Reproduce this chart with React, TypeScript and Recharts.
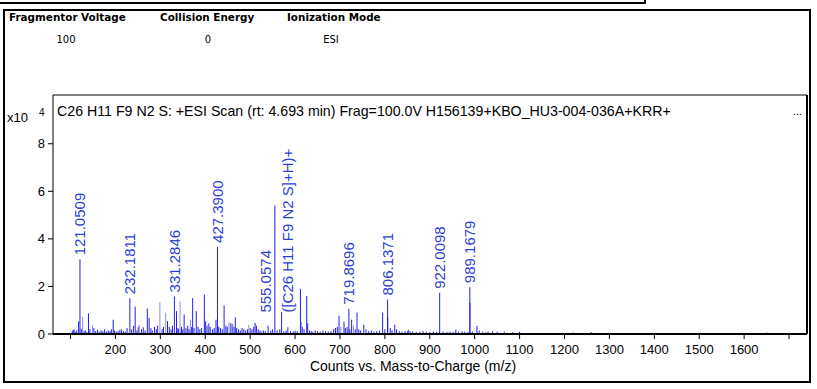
import { ScatterChart, Scatter, XAxis, YAxis, ErrorBar, ReferenceLine, Label } from "recharts";

// labelled centroids (m/z, counts x10^4)
const annotatedMz = [121.0509, 232.1811, 331.2846, 427.39, 555.0574, 719.8696, 806.1371, 922.0098, 989.1679];
const annotatedCounts = [3.14, 1.5, 1.58, 3.66, 5.4, 1.06, 1.45, 1.73, 1.97];
const basePeakFormula = "([C26 H11 F9 N2 S]+H)+";
const basePeakMz = 555.0574;

// unlabelled peaks, darker sticks
const minorPeaks: [number, number][] = [
  [106, 0.18], [118, 0.53], [140, 0.87], [195, 0.6], [244, 1.15], [271, 1.07], [275, 0.68],
  [316, 0.54], [336, 0.96], [353, 0.82], [372, 1.51], [380, 0.96], [398, 1.66], [401, 0.54],
  [424, 0.6], [442, 1.2], [457, 0.45], [467, 0.7], [511, 0.46], [540, 0.35], [570, 0.92],
  [584, 0.28], [612, 1.9], [626, 1.6], [628, 0.45], [698, 0.77], [709, 0.52], [726, 0.6],
  [738, 0.9], [753, 0.39], [795, 0.9], [806.4, 0.7], [822, 0.39], [852, 0.18], [958, 0.18],
  [989.4, 1.31], [1005, 0.35],
];

// lighter sticks
const faintPeaks: [number, number][] = [
  [127, 0.73], [149, 0.35], [253, 0.39], [299, 1.34], [312, 0.9], [344, 1.38], [367, 0.6],
  [453, 0.5], [460, 0.45], [497, 0.38], [614, 0.5], [702, 0.3], [730, 0.35],
];

// baseline noise
const noisePeaks: [number, number][] = [
  [104, 0.12], [108, 0.18], [111, 0.08], [114, 0.15], [124, 0.22], [130, 0.12], [133, 0.15],
  [136, 0.08], [143, 0.2], [152, 0.25], [156, 0.12], [160, 0.18], [164, 0.1], [168, 0.15],
  [172, 0.12], [176, 0.2], [180, 0.1], [184, 0.15], [188, 0.12], [191, 0.2], [198, 0.15],
  [202, 0.1], [206, 0.12], [210, 0.18], [214, 0.2], [218, 0.12], [222, 0.1], [226, 0.25],
  [236, 0.2], [240, 0.35], [248, 0.15], [251, 0.3], [258, 0.2], [262, 0.28], [266, 0.15],
  [279, 0.25], [282, 0.15], [287, 0.3], [291, 0.2], [294, 0.35], [304, 0.2], [307, 0.3],
  [320, 0.3], [324, 0.2], [327, 0.35], [339, 0.25], [341, 0.2], [347, 0.3], [350, 0.2],
  [357, 0.25], [361, 0.35], [364, 0.2], [369, 0.3], [375, 0.25], [384, 0.3], [388, 0.2],
  [392, 0.25], [404, 0.35], [408, 0.45], [411, 0.3], [416, 0.2], [420, 0.25], [430, 0.3],
  [434, 0.25], [438, 0.2], [446, 0.35], [449, 0.3], [461, 0.4], [464, 0.3], [470, 0.25],
  [474, 0.2], [478, 0.15], [482, 0.25], [486, 0.2], [490, 0.15], [494, 0.2], [500, 0.25],
  [504, 0.2], [508, 0.3], [514, 0.35], [518, 0.2], [522, 0.15], [526, 0.1], [530, 0.15],
  [534, 0.12], [546, 0.15], [550, 0.2], [560, 0.15], [566, 0.2], [575, 0.12], [580, 0.15],
  [590, 0.12], [596, 0.1], [600, 0.15], [605, 0.12], [616, 0.3], [620, 0.2], [632, 0.15],
  [636, 0.12], [640, 0.1], [645, 0.15], [650, 0.12], [656, 0.1], [662, 0.15], [668, 0.12],
  [674, 0.1], [680, 0.12], [686, 0.2], [690, 0.25], [694, 0.3], [712, 0.25], [716, 0.3],
  [722, 0.2], [734, 0.2], [742, 0.2], [746, 0.15], [758, 0.2], [764, 0.12], [770, 0.15],
  [776, 0.1], [782, 0.12], [788, 0.15], [800, 0.2], [812, 0.25], [816, 0.15], [826, 0.2],
  [832, 0.12], [838, 0.1], [845, 0.12], [850, 0.1], [856, 0.12], [862, 0.1], [870, 0.08],
  [878, 0.1], [885, 0.12], [892, 0.1], [900, 0.08], [908, 0.1], [915, 0.08], [930, 0.1],
  [938, 0.08], [945, 0.1], [952, 0.08], [964, 0.1], [972, 0.12], [978, 0.1], [985, 0.08],
  [995, 0.1], [1010, 0.15], [1018, 0.1], [1025, 0.08], [1030, 0.1], [1040, 0.12], [1050, 0.1],
  [1066, 0.1], [1085, 0.08], [1100, 0.1], [1220, 0.06], [1260, 0.08], [1650, 0.06],
];

const xTicks = [100, 200, 300, 400, 500, 600, 700, 800, 900, 1000, 1100, 1200, 1300, 1400, 1500, 1600, 1700];
const yTicks = [0, 2, 4, 6, 8];
const xDomain: [number, number] = [61, 1740];
const yDomain: [number, number] = [0, 10.05];
const scanStart = 104;
const scanEnd = 1700;

const headerLabels = ["Fragmentor Voltage", "Collision Energy", "Ionization Mode"];
const headerValues = ["100", "0", "ESI"];

const scanTitle = "C26 H11 F9 N2 S: +ESI Scan (rt: 4.693 min) Frag=100.0V H156139+KBO_HU3-004-036A+KRR+";
const xTitle = "Counts vs. Mass-to-Charge (m/z)";

const DARK = "#2020ee";
const FAINT = "#8c8cf4";
const LABEL = "#2e3fd6";
const SANS = "'Liberation Sans', Arial, sans-serif";

const toRows = (pairs: [number, number][]) => pairs.map(([mz, h]) => ({ mz, h, err: [h, 0] }));
const annotatedRows = annotatedMz.map((mz, i) => ({
  mz, h: annotatedCounts[i], err: [annotatedCounts[i], 0], label: mz.toFixed(4),
}));

const noShape = () => <g />;

const PeakLabel = (props: any) => {
  const { cx, cy, payload } = props;
  const common = { fill: LABEL, fontSize: 15, fontFamily: SANS, dy: "0.36em" };
  if (payload.mz === basePeakMz) {
    const yb = cy + 107;
    return (
      <g>
        <text x={cx - 9} y={yb} transform={`rotate(-90 ${cx - 9} ${yb})`} {...common}>{payload.label}</text>
        <text x={cx + 13} y={yb} transform={`rotate(-90 ${cx + 13} ${yb})`} {...common}>{basePeakFormula}</text>
      </g>
    );
  }
  const y = cy - 4;
  return <text x={cx} y={y} transform={`rotate(-90 ${cx} ${y})`} {...common}>{payload.label}</text>;
};

const ScanTitle = (props: any) => {
  const { x, y, width } = props.viewBox;
  return (
    <g fontFamily={SANS} fill="#000">
      <text x={x + 4} y={y + 21} fontSize={14.2}>{scanTitle}</text>
      <text x={x + width - 14} y={y + 20} fontSize={11}>...</text>
    </g>
  );
};

const ExponentLabel = (props: any) => {
  const { x, y } = props.viewBox;
  return (
    <g fontFamily={SANS} fill="#000">
      <text x={x + 7} y={y + 27} fontSize={13}>x10</text>
      <text x={x + 39} y={y + 21} fontSize={10}>4</text>
    </g>
  );
};

const AxisTitle = (props: any) => {
  const { x, y } = props.viewBox;
  return (
    <text x={x + 360} y={y + 37} textAnchor="middle" fontSize={14} fontFamily={SANS} fill="#000">{xTitle}</text>
  );
};

const headerX = [9, 160, 287];
const valueX = [66, 208, 331];

export default function App() {
  return (
    <div style={{ position: "absolute", left: 0, top: 0, width: 817, height: 389, background: "#fff" }}>
      <svg width={817} height={389} style={{ position: "absolute", left: 0, top: 0 }}>
        <path d="M0 3 H645 V0" fill="none" stroke="#000" strokeWidth={2} />
        <rect x={4} y={10} width={806} height={372} fill="none" stroke="#000" strokeWidth={2} />
        {headerLabels.map((t, i) => (
          <text key={t} x={headerX[i]} y={21} fontSize={10.4} fontWeight="bold" fontFamily="'DejaVu Sans', Verdana, sans-serif">{t}</text>
        ))}
        {headerValues.map((t, i) => (
          <text key={t} x={valueX[i]} y={43} fontSize={10} textAnchor="middle" fontFamily="'DejaVu Sans', Verdana, sans-serif">{t}</text>
        ))}
      </svg>
      <div style={{ position: "absolute", left: 0, top: 0 }}>
        <ScatterChart width={817} height={389} margin={{ top: 95, right: 10, bottom: 0, left: 0 }}>
          <XAxis
            type="number" dataKey="mz" domain={xDomain} ticks={xTicks} interval={0} allowDataOverflow
            tickFormatter={(v: number) => (v === 100 || v === 1700 ? "" : String(v))}
            height={55} tickSize={5} tickMargin={6}
            axisLine={{ stroke: "#000", strokeWidth: 2 }} tickLine={{ stroke: "#000" }}
            tick={{ fill: "#000", fontSize: 13, fontFamily: SANS }}
          >
            <Label content={AxisTitle} />
          </XAxis>
          <YAxis
            type="number" dataKey="h" domain={yDomain} ticks={yTicks} interval={0} allowDataOverflow
            width={53} tickSize={5} tickMargin={3}
            axisLine={{ stroke: "#000" }} tickLine={{ stroke: "#000" }}
            tick={{ fill: "#000", fontSize: 13, fontFamily: SANS }}
          >
            <Label content={ExponentLabel} />
          </YAxis>
          <ReferenceLine y={yDomain[1]} stroke="#000" ifOverflow="extendDomain">
            <Label content={ScanTitle} />
          </ReferenceLine>
          <ReferenceLine x={xDomain[1]} stroke="#000" strokeWidth={2} ifOverflow="extendDomain" />
          <ReferenceLine segment={[{ x: scanStart, y: 0 }, { x: scanEnd, y: 0 }]} stroke={DARK} />
          <Scatter data={toRows(noisePeaks)} shape={noShape} isAnimationActive={false}>
            <ErrorBar dataKey="err" direction="y" width={0} stroke={DARK} strokeWidth={1} isAnimationActive={false} />
          </Scatter>
          <Scatter data={toRows(faintPeaks)} shape={noShape} isAnimationActive={false}>
            <ErrorBar dataKey="err" direction="y" width={0} stroke={FAINT} strokeWidth={1} isAnimationActive={false} />
          </Scatter>
          <Scatter data={toRows(minorPeaks)} shape={noShape} isAnimationActive={false}>
            <ErrorBar dataKey="err" direction="y" width={0} stroke={DARK} strokeWidth={1} isAnimationActive={false} />
          </Scatter>
          <Scatter data={annotatedRows} shape={PeakLabel} isAnimationActive={false}>
            <ErrorBar dataKey="err" direction="y" width={0} stroke={DARK} strokeWidth={1} isAnimationActive={false} />
          </Scatter>
        </ScatterChart>
      </div>
    </div>
  );
}
